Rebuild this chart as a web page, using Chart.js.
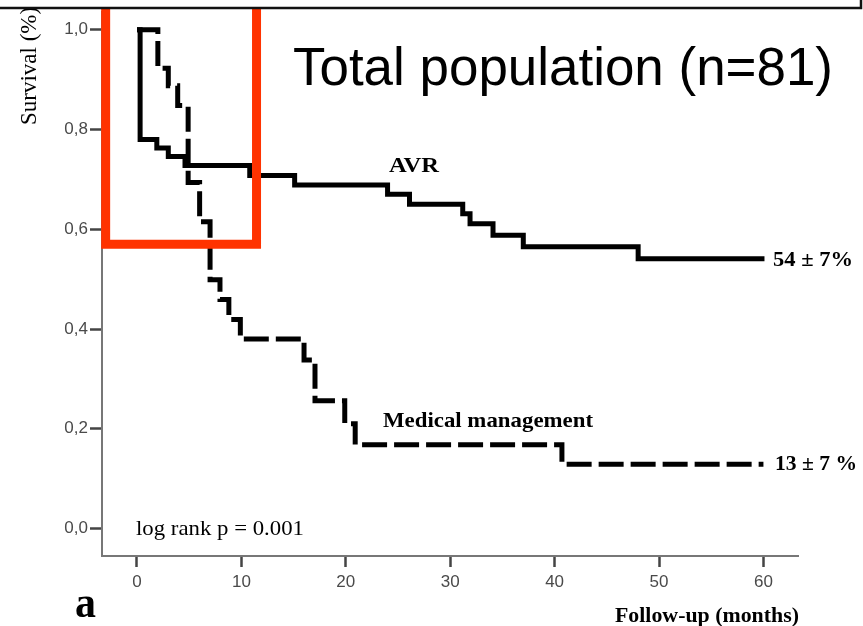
<!DOCTYPE html>
<html>
<head>
<meta charset="utf-8">
<script src="https://cdn.jsdelivr.net/npm/chart.js@4.4.1/dist/chart.umd.min.js"></script>
<style>
  html, body { margin: 0; padding: 0; background: #fff; }
  canvas { display: block; }
</style>
</head>
<body>
<canvas id="chart" width="863" height="626"></canvas>
<script>
// DATA //

// Kaplan-Meier steps (months, survival fraction)
const avrMonths = [0, 0.3, 1.9, 3.0, 4.6, 10.8, 15.1, 24.0, 26.1, 31.2, 31.9, 34.1, 37.0, 48.0, 60.1];
const avrSurvival = [1.0, 0.78, 0.763, 0.746, 0.728, 0.708, 0.689, 0.67, 0.65, 0.631, 0.611, 0.588, 0.565, 0.541, 0.541];

const medMonths = [0, 2.0, 3.0, 3.9, 4.9, 6.0, 7.0, 7.95, 8.8, 9.9, 16.0, 17.05, 19.9, 20.9, 40.7, 60.0];
const medSurvival = [1.0, 0.923, 0.888, 0.848, 0.694, 0.615, 0.499, 0.459, 0.419, 0.38, 0.338, 0.256, 0.21, 0.168, 0.129, 0.129];

const xTicks = [0, 10, 20, 30, 40, 50, 60];
const yTicks = [0, 0.2, 0.4, 0.6, 0.8, 1.0];

// highlighted region (data units), drawn as an open red frame
const boxMonths = [-3.0, 11.45];
const boxBottom = 0.57;

// HELPERS //

function toPoints(xs, ys) {
  return xs.map((x, i) => ({ x: x, y: ys[i] }));
}

// draw text squeezed/stretched to a measured width
function fitText(ctx, text, x, y, font, width) {
  ctx.font = font;
  const w = ctx.measureText(text).width;
  ctx.save();
  ctx.translate(x, y);
  ctx.scale(width / w, 1);
  ctx.fillText(text, 0, 0);
  ctx.restore();
}

const serif = '"Liberation Serif", "DejaVu Serif", serif';
const sans = '"Liberation Sans", Arial, sans-serif';

// PLUGINS //

const whiteBackground = {
  id: "whiteBackground",
  beforeDraw(chart) {
    const ctx = chart.ctx;
    ctx.save();
    ctx.fillStyle = "#fff";
    ctx.fillRect(0, 0, chart.width, chart.height);
    ctx.restore();
  },
};

const annotations = {
  id: "annotations",
  afterDraw(chart) {
    const ctx = chart.ctx;
    const xs = chart.scales.x;
    const ys = chart.scales.y;
    ctx.save();
    ctx.fillStyle = "#000";
    ctx.textBaseline = "alphabetic";
    ctx.textAlign = "left";

    fitText(ctx, "Total population (n=81)", 293, 85, "54px " + sans, 540);
    fitText(ctx, "AVR", 389, 172, "bold 22px " + serif, 50);
    fitText(ctx, "54 \u00b1 7%", 773, 266, "bold 22px " + serif, 80);
    fitText(ctx, "Medical management", 383, 427, "bold 22px " + serif, 210);
    fitText(ctx, "13 \u00b1 7 %", 775, 470, "bold 22px " + serif, 82);
    fitText(ctx, "log rank p = 0.001", 136, 535, "22px " + serif, 168);
    fitText(ctx, "a", 75, 617, "bold 44px " + serif, 21);
    fitText(ctx, "Follow-up (months)", 615, 622, "bold 22px " + serif, 184);

    // y axis title, rotated
    ctx.save();
    ctx.translate(36, 125);
    ctx.rotate(-Math.PI / 2);
    ctx.font = "23px " + serif;
    ctx.fillText("Survival (%)", 0, 0);
    ctx.restore();

    // red frame
    const left = xs.getPixelForValue(boxMonths[0]);
    const right = xs.getPixelForValue(boxMonths[1]);
    const bottom = ys.getPixelForValue(boxBottom);
    ctx.strokeStyle = "#ff3300";
    ctx.lineWidth = 9;
    ctx.lineJoin = "miter";
    ctx.beginPath();
    ctx.moveTo(left, 9);
    ctx.lineTo(left, bottom);
    ctx.lineTo(right, bottom);
    ctx.lineTo(right, 9);
    ctx.stroke();

    // border of the box above the plot
    ctx.fillStyle = "#fff";
    ctx.fillRect(0, 0, chart.width, 7);
    ctx.strokeStyle = "#111";
    ctx.lineWidth = 2.5;
    ctx.beginPath();
    ctx.moveTo(0, 8);
    ctx.lineTo(861, 8);
    ctx.lineTo(861, 0);
    ctx.stroke();
    ctx.restore();
  },
};

// CHART //

const tickFont = { family: sans, size: 17 };

new Chart(document.getElementById("chart"), {
  type: "line",
  data: {
    datasets: [
      {
        label: "AVR",
        data: toPoints(avrMonths, avrSurvival),
        borderColor: "#000",
        borderWidth: 5,
        stepped: true,
        pointRadius: 0,
        fill: false,
        borderJoinStyle: "miter",
        borderCapStyle: "butt",
      },
      {
        label: "Medical management",
        data: toPoints(medMonths, medSurvival),
        borderColor: "#000",
        borderWidth: 5,
        borderDash: [25, 7],
        stepped: true,
        pointRadius: 0,
        fill: false,
        borderJoinStyle: "miter",
        borderCapStyle: "butt",
      },
    ],
  },
  options: {
    responsive: false,
    animation: false,
    events: [],
    layout: { padding: { top: 9, right: 65, left: 0, bottom: 0 } },
    plugins: { legend: { display: false }, tooltip: { enabled: false } },
    scales: {
      x: {
        type: "linear",
        min: -3.35,
        max: 63.31,
        afterBuildTicks: (s) => { s.ticks = xTicks.map((v) => ({ value: v })); },
        afterFit: (s) => { s.height = 70; },
        ticks: { font: tickFont, color: "#4a4a4a", padding: 5, maxRotation: 0 },
        grid: { drawOnChartArea: false, drawTicks: true, tickLength: 11, tickColor: "#444", tickWidth: 2.5 },
        border: { display: true, color: "#777", width: 2 },
      },
      y: {
        min: -0.0552,
        max: 1.0353,
        afterBuildTicks: (s) => { s.ticks = yTicks.map((v) => ({ value: v })); },
        afterFit: (s) => { s.width = 102; },
        ticks: {
          font: tickFont,
          color: "#4a4a4a",
          padding: 2,
          callback: (v) => v.toFixed(1).replace(".", ","),
        },
        grid: { drawOnChartArea: false, drawTicks: true, tickLength: 12, tickColor: "#444", tickWidth: 2.5 },
        border: { display: true, color: "#777", width: 2 },
      },
    },
  },
  plugins: [whiteBackground, annotations],
});
</script>
</body>
</html>
